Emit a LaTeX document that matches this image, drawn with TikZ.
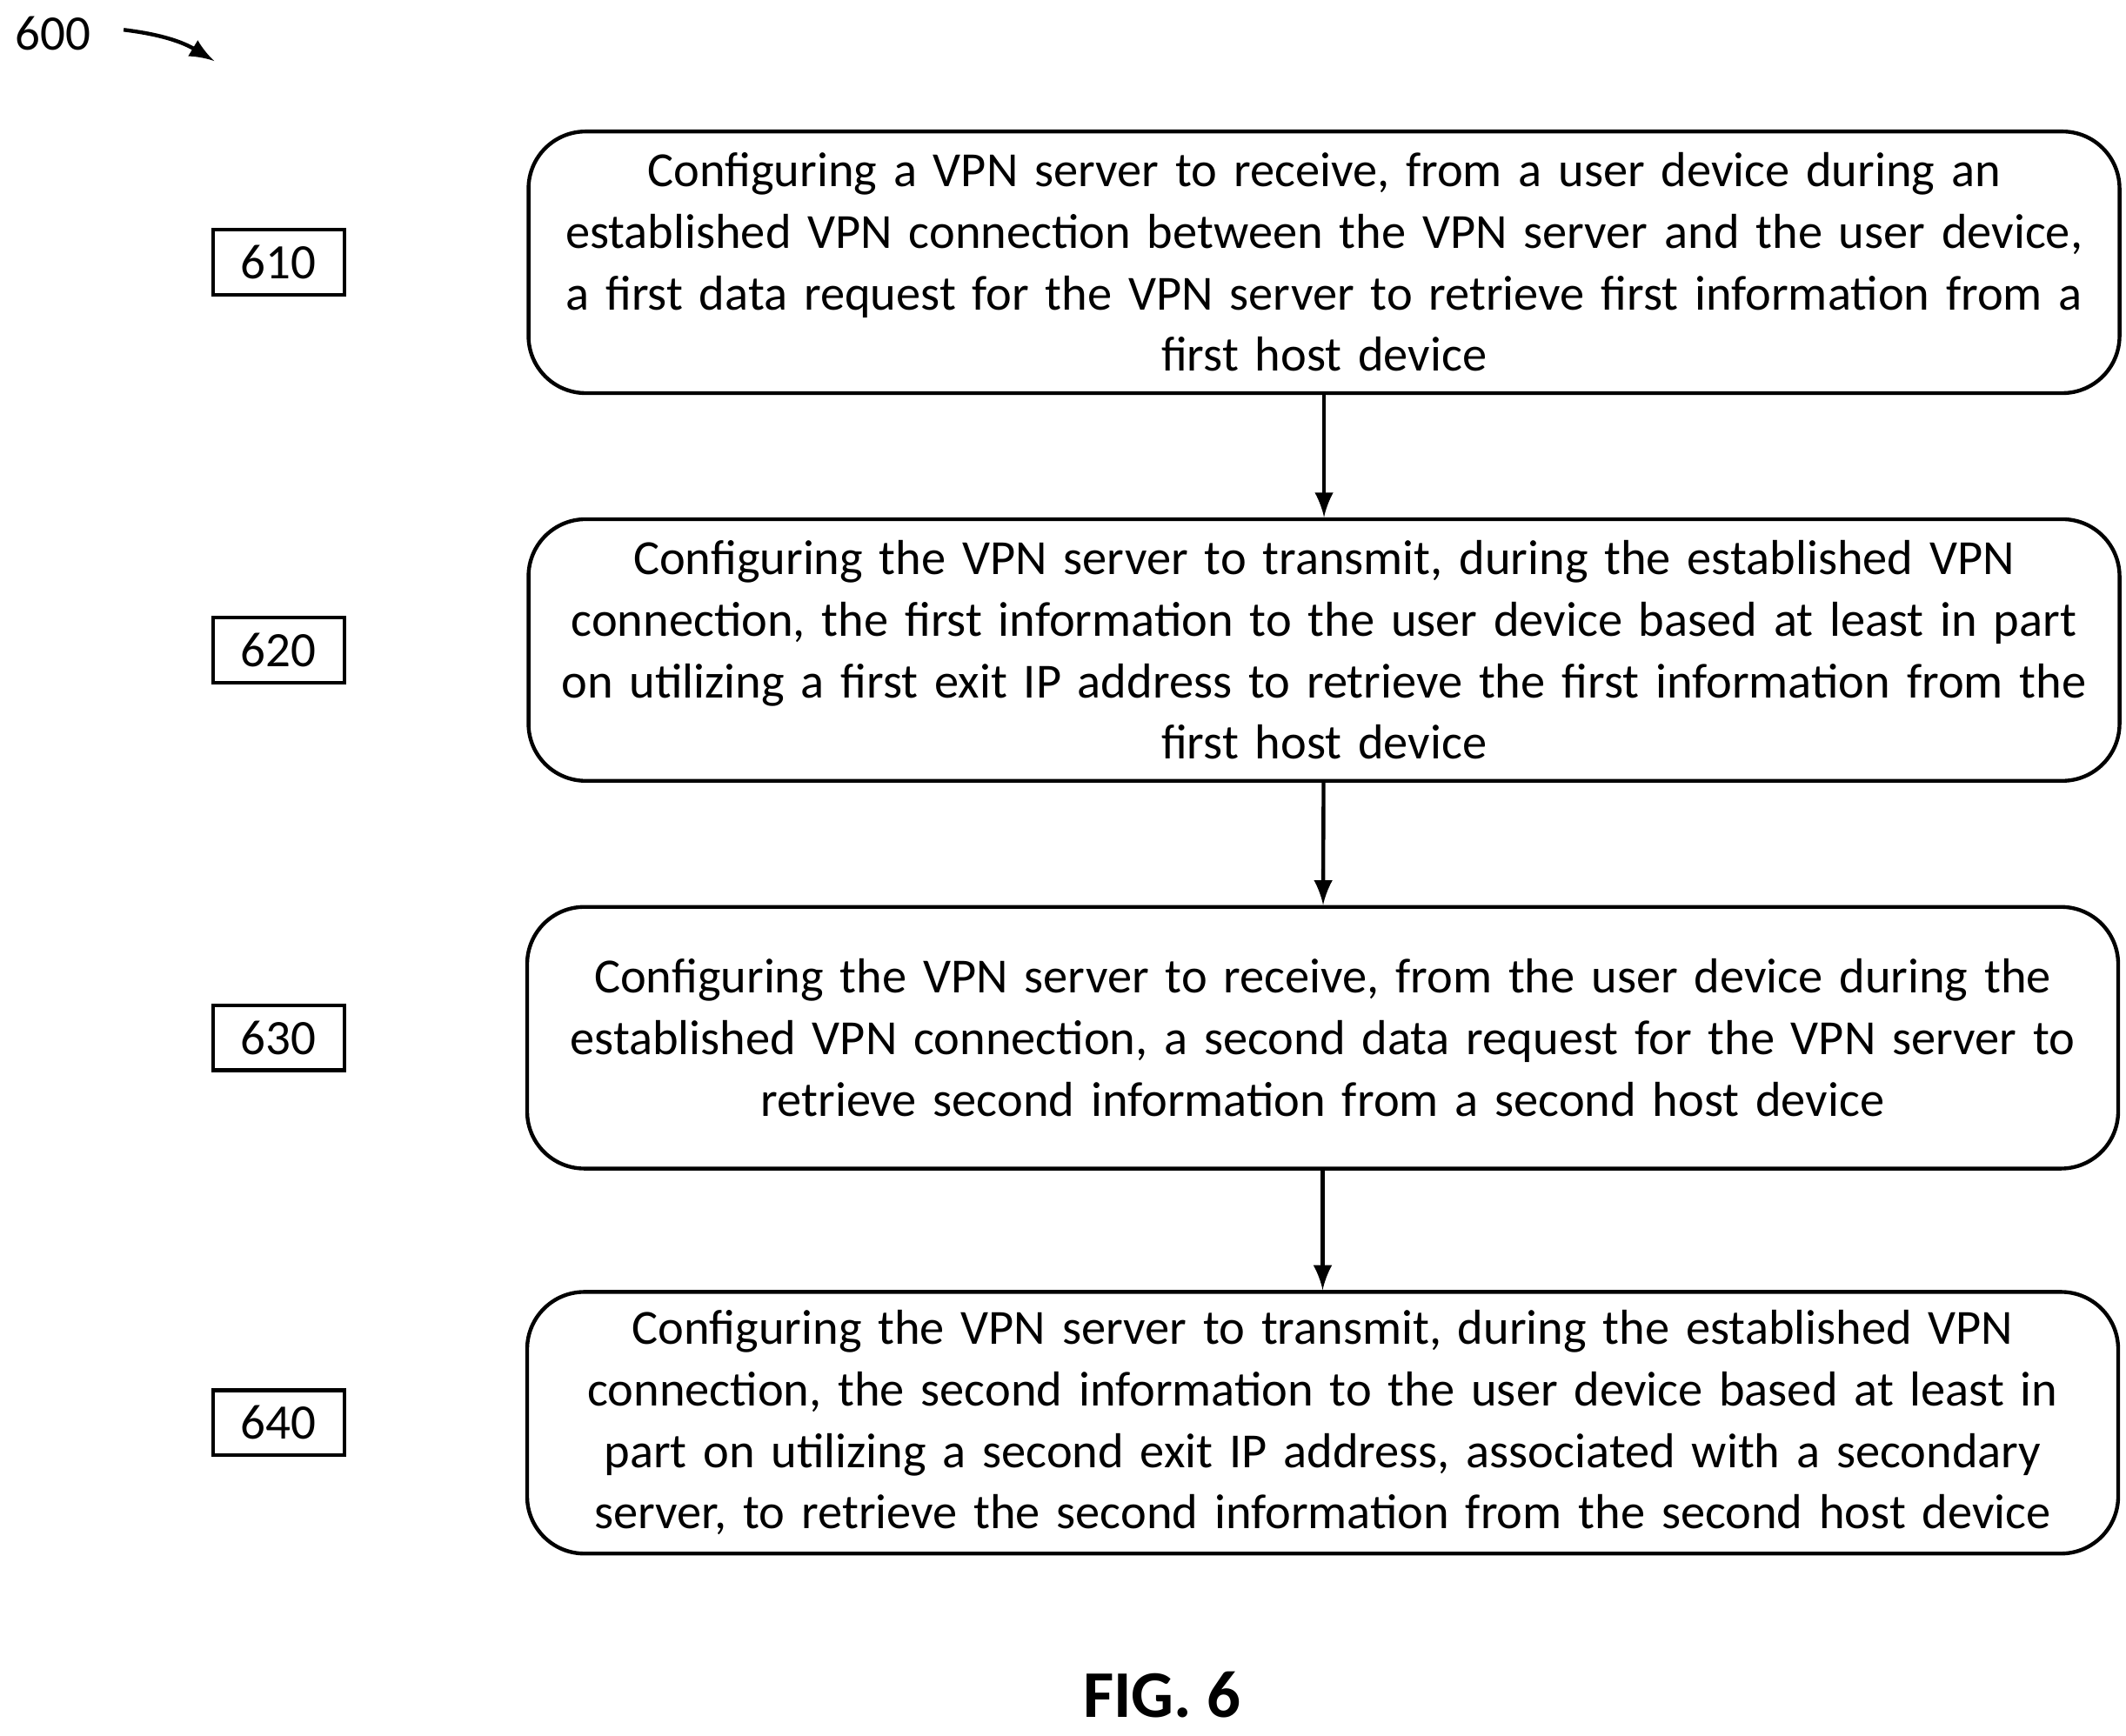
\documentclass[tikz,border=0pt]{standalone}
\usepackage{fontspec}
\setmainfont{Carlito}
\usetikzlibrary{positioning}
\tikzset{
  stepbox/.style={draw, thick, rounded corners=12pt, minimum width=11.53cm, minimum height=1.93cm,
    text width=11.5cm, align=center, font=\fontsize{10.3pt}{12.9pt}\selectfont},
  tag/.style={draw, thick, minimum width=0.97cm, minimum height=0.48cm, inner sep=1pt,
    font=\fontsize{10.4pt}{12.9pt}\selectfont},
  flow/.style={thick, -latex}
}
\begin{document}
\begin{tikzpicture}
  \useasboundingbox (0,0) rectangle (15.68,-12.8);
  % steps of the method
  \node[stepbox] (s610) at (9.765,-1.935) {Configuring a VPN server to receive, from a user device during an\\ established VPN connection between the VPN server and the user device,\\ a first data request for the VPN server to retrieve first information from a\\ first host device};
  \node[stepbox] (s620) at (9.765,-4.795) {Configuring the VPN server to transmit, during the established VPN\\ connection, the first information to the user device based at least in part\\ on utilizing a first exit IP address to retrieve the first information from the\\ first host device};
  \node[stepbox, minimum width=11.56cm] (s630) at (9.755,-7.655) {Configuring the VPN server to receive, from the user device during the\\ established VPN connection, a second data request for the VPN server to\\ retrieve second information from a second host device};
  \node[stepbox, minimum width=11.56cm] (s640) at (9.755,-10.495) {Configuring the VPN server to transmit, during the established VPN\\ connection, the second information to the user device based at least in\\ part on utilizing a second exit IP address, associated with a secondary\\ server, to retrieve the second information from the second host device};
  % reference numerals
  \foreach \n in {610,620,630,640}
    \node[tag] (t\n) at (2.055,0 |- s\n) {\n};
  \draw[flow] (s610) -- (s620);
  \draw[flow] (s620) -- (s630);
  \draw[flow] (s630) -- (s640);
  \node[font=\fontsize{10.4pt}{12.9pt}\selectfont] (fig) at (0.39,-0.25) {600};
  \coordinate (figtip) at (1.58,-0.45);
  \draw[thick, -latex] (fig.east) ++(0.12,0.03) to[bend left=12] (figtip);
  \node[font=\fontsize{14pt}{16pt}\selectfont\bfseries] (cap) at (8.57,-12.5) {FIG. 6};
\end{tikzpicture}
\end{document}
